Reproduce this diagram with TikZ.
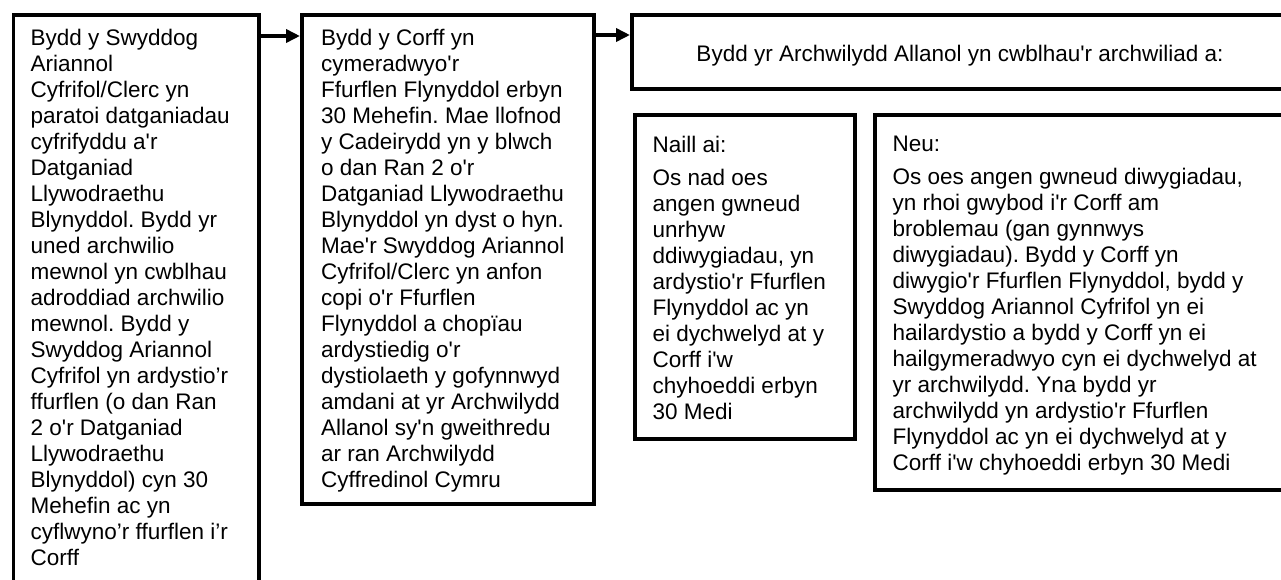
\documentclass[tikz,border=0pt]{standalone}
\usepackage{fontspec}
\setmainfont{Liberation Sans}[Ligatures=TeXOff]
\usetikzlibrary{arrows.meta}
\frenchspacing
\begin{document}
\begin{tikzpicture}[x=1pt,y=-1pt,
  box/.style={draw=black, line width=3.5pt, rectangle, inner sep=0pt, anchor=north west, fill=white},
  txt/.style={inner sep=0pt, align=left, anchor=north west, text=black,
    font=\fontsize{22.5pt}{26pt}\selectfont\frenchspacing},
  conn/.style={line width=3.5pt, -{Triangle[length=14pt,width=13pt]}}]
\useasboundingbox[fill=white] (0,0) rectangle (1281,579);
% boxes
\node[box, minimum width=245.5pt, minimum height=582pt] (b1) at (11.5,13) {};
\node[box, minimum width=292pt, minimum height=489pt] (b2) at (300,13) {};
\node[box, minimum width=660pt, minimum height=74pt] (b3) at (630,13) {};
\node[box, minimum width=220pt, minimum height=324pt] (b4) at (633,113) {};
\node[box, minimum width=417pt, minimum height=375pt] (b5) at (873,113) {};
% texts
\node[txt] (t1) at (30.5,28.9) {Bydd y Swyddog\\Ariannol\\Cyfrifol/Clerc yn\\paratoi datganiadau\\cyfrifyddu a'r\\Datganiad\\Llywodraethu\\Blynyddol. Bydd yr\\uned archwilio\\mewnol yn cwblhau\\adroddiad archwilio\\mewnol. Bydd y\\Swyddog Ariannol\\Cyfrifol yn ardystio’r\\ffurflen (o dan Ran\\2 o'r Datganiad\\Llywodraethu\\Blynyddol) cyn 30\\Mehefin ac yn\\cyflwyno’r ffurflen i’r\\Corff};
\node[txt] (t2) at (321,28.9) {Bydd y Corff yn\\cymeradwyo'r\\Ffurflen Flynyddol erbyn\\30 Mehefin. Mae llofnod\\y Cadeirydd yn y blwch\\o dan Ran 2 o'r\\Datganiad Llywodraethu\\Blynyddol yn dyst o hyn.\\Mae'r Swyddog Ariannol\\Cyfrifol/Clerc yn anfon\\copi o'r Ffurflen\\Flynyddol a chopïau\\ardystiedig o'r\\dystiolaeth y gofynnwyd\\amdani at yr Archwilydd\\Allanol sy'n gweithredu\\ar ran Archwilydd\\Cyffredinol Cymru};
\node[txt, anchor=base] (t3) at (960,61) {Bydd yr Archwilydd Allanol yn cwblhau'r archwiliad a:};
\node[txt] (t4) at (652.5,135.9) {Naill ai:\\[7pt]Os nad oes\\angen gwneud\\unrhyw\\ddiwygiadau, yn\\ardystio'r Ffurflen\\Flynyddol ac yn\\ei dychwelyd at y\\Corff i'w\\chyhoeddi erbyn\\30 Medi};
\node[txt] (t5) at (892.5,135.9) {Neu:\\[7pt]Os oes angen gwneud diwygiadau,\\yn rhoi gwybod i'r Corff am\\broblemau (gan gynnwys\\diwygiadau). Bydd y Corff yn\\diwygio'r Ffurflen Flynyddol, bydd y\\Swyddog Ariannol Cyfrifol yn ei\\hailardystio a bydd y Corff yn ei\\hailgymeradwyo cyn ei dychwelyd at\\yr archwilydd. Yna bydd yr\\archwilydd yn ardystio'r Ffurflen\\Flynyddol ac yn ei dychwelyd at y\\Corff i'w chyhoeddi erbyn 30 Medi};
% connectors
\draw[conn] ([yshift=-23pt]b1.north east) -- ([yshift=-23pt]b2.north west);
\draw[conn] ([yshift=-22pt]b2.north east) -- ([yshift=-22pt]b3.north west);
\end{tikzpicture}
\end{document}
